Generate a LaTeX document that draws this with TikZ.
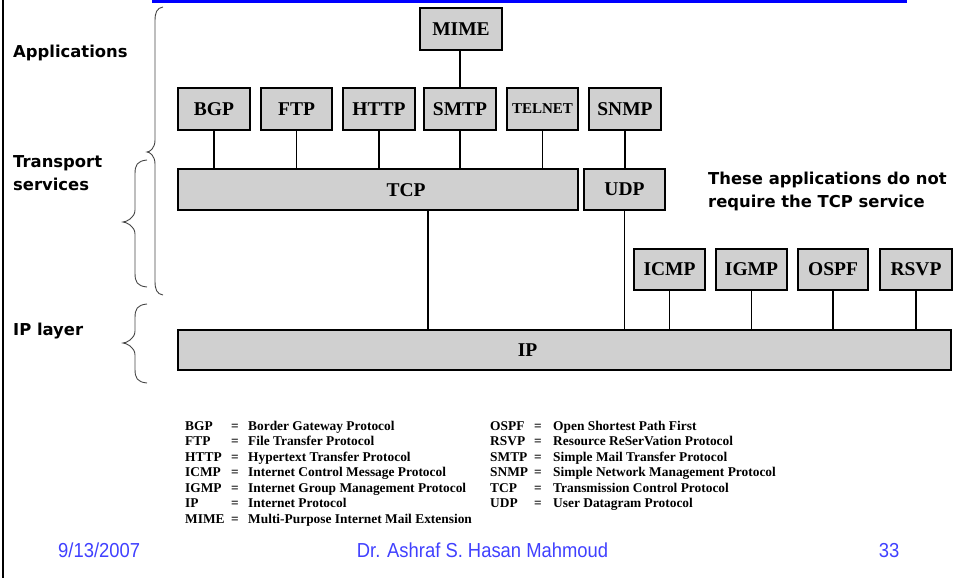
\documentclass[tikz,border=0pt]{standalone}
\usepackage{fontspec}
\setmainfont{Liberation Serif}
\newfontfamily\labelfont{DejaVu Sans}
\newfontfamily\footfont{Liberation Sans}
\usetikzlibrary{calc}
\definecolor{boxgray}{RGB}{208,208,208}
\definecolor{bracegray}{RGB}{70,70,70}
\definecolor{footblue}{RGB}{64,64,255}
\definecolor{barblue}{RGB}{0,0,255}

% curly brace opening to the right: right end x, spine x, tip x, top y, tip y, bottom y
\newcommand\drawbrace[6]{%
  \draw[bracegray, line width=0.9pt]
    (#1,#4) .. controls ({#2+2},{#4+1}) and (#2,{#4+5}) .. (#2,{#4+14})
    -- (#2,{#5-12}) .. controls (#2,{#5-4}) and ({#3+3},#5) .. (#3,#5)
    .. controls ({#3+3},#5) and (#2,{#5+4}) .. (#2,{#5+12})
    -- (#2,{#6-14}) .. controls (#2,{#6-5}) and ({#2+2},{#6-1}) .. (#1,#6);}

\tikzset{
  proto/.style={draw=black, fill=boxgray, line width=1.3pt, inner sep=0pt,
    minimum height=42pt, font=\fontsize{19.5}{22}\selectfont\bfseries},
  wire/.style={line width=1.3pt},
  sidelabel/.style={anchor=base west, inner sep=0pt,
    font=\labelfont\fontsize{16.4}{23}\selectfont\bfseries},
  legend/.style={anchor=base west, inner sep=0pt,
    font=\fontsize{13.4}{15.5}\selectfont\bfseries},
  eqsign/.style={anchor=base, inner sep=0pt,
    font=\fontsize{13.4}{15.5}\selectfont\bfseries},
  foot/.style={anchor=base, inner sep=0pt, text=footblue,
    font=\footfont\fontsize{18.4}{20}\selectfont}
}

\begin{document}
\begin{tikzpicture}[x=1pt,y=-1pt]
\useasboundingbox (0,0) rectangle (955,578);

% slide frame: title bar and left rule
\fill[barblue] (152,0) rectangle (907,3.5);
\draw[line width=2pt] (3,0) -- (3,578);

% layer labels
\node[sidelabel] (lapp) at (13,58) {Applications};
\node[sidelabel, align=left] (ltrans) at (13,190) {Transport\\services};
\node[sidelabel] (lip) at (13,335) {IP layer};
\node[sidelabel, align=left] (lnote) at (708,207) {These applications do not\\require the TCP service};

% braces
\drawbrace{163}{155}{147}{7}{152}{295}
\drawbrace{147}{135}{123}{160}{222}{287}
\drawbrace{147}{135}{123}{304}{343}{383}

% application protocols
\node[proto, minimum width=82pt] (MIME) at (461,29) {MIME};
\node[proto, minimum width=72pt] (BGP) at (214,109) {BGP};
\node[proto, minimum width=71pt] (FTP) at (296.5,109) {FTP};
\node[proto, minimum width=72pt] (HTTP) at (379,109) {HTTP};
\node[proto, minimum width=72pt] (SMTP) at (460,109) {SMTP};
\node[proto, minimum width=71pt, font=\fontsize{15}{17}\selectfont\bfseries] (TELNET) at (542.5,109) {TELNET};
\node[proto, minimum width=72pt] (SNMP) at (625,109) {SNMP};

% transport layer
\node[proto, minimum width=400pt, minimum height=41pt] (TCP) at (378,189.5) {};
\node[font=\fontsize{19.5}{22}\selectfont\bfseries] (TCPlabel) at (406,190) {TCP};
\node[proto, minimum width=81pt, minimum height=41pt] (UDP) at (624.5,189.5) {UDP};

% protocols directly over IP
\node[proto, minimum width=71pt, minimum height=41pt] (ICMP) at (669.5,269.5) {ICMP};
\node[proto, minimum width=71pt, minimum height=41pt] (IGMP) at (751.5,269.5) {IGMP};
\node[proto, minimum width=70pt, minimum height=41pt] (OSPF) at (833,269.5) {OSPF};
\node[proto, minimum width=72pt, minimum height=41pt] (RSVP) at (916,269.5) {RSVP};

% IP layer
\node[proto, minimum width=773pt, minimum height=40pt] (IP) at (564.5,350) {};
\node[font=\fontsize{19.5}{22}\selectfont\bfseries] (IPlabel) at (527.5,350) {IP};

% connectors
\draw[wire] (SMTP.north |- MIME.south) -- (SMTP.north);
\foreach \n in {BGP,FTP,HTTP,SMTP,TELNET}
  \draw[wire] (\n.south) -- (\n.south |- TCP.north);
\draw[wire] (SNMP.south) -- (SNMP.south |- UDP.north);
\draw[wire] (TCP.south) ++(50,0) coordinate (tcpdrop) -- (tcpdrop |- IP.north);
\draw[wire] (UDP.south) -- (UDP.south |- IP.north);
\foreach \n in {ICMP,IGMP,OSPF,RSVP}
  \draw[wire] (\n.south) -- (\n.south |- IP.north);

% abbreviation key
\foreach \ab/\df [count=\i from 0] in {
  BGP/Border Gateway Protocol,
  FTP/File Transfer Protocol,
  HTTP/Hypertext Transfer Protocol,
  ICMP/Internet Control Message Protocol,
  IGMP/Internet Group Management Protocol,
  IP/Internet Protocol,
  MIME/Multi-Purpose Internet Mail Extension}{
  \node[legend] (ka\i) at (185,{430+15.5*\i}) {\ab};
  \node[eqsign] (ke\i) at (235,{430+15.5*\i}) {=};
  \node[legend] (kd\i) at (248,{430+15.5*\i}) {\df};
}
\foreach \ab/\df [count=\i from 0] in {
  OSPF/Open Shortest Path First,
  RSVP/Resource ReSerVation Protocol,
  SMTP/Simple Mail Transfer Protocol,
  SNMP/Simple Network Management Protocol,
  TCP/Transmission Control Protocol,
  UDP/User Datagram Protocol}{
  \node[legend] (kb\i) at (490,{430+15.5*\i}) {\ab};
  \node[eqsign] (kf\i) at (538,{430+15.5*\i}) {=};
  \node[legend] (kg\i) at (553,{430+15.5*\i}) {\df};
}

% footer
\node[foot, anchor=base west] (fdate) at (58,557) {\scalebox{1}[1.1]{9/13/2007}};
\node[foot] (fauthor) at (482.5,557) {\scalebox{1}[1.1]{Dr. Ashraf S. Hasan Mahmoud}};
\node[foot] (fpage) at (889,557) {\scalebox{1}[1.1]{33}};
\end{tikzpicture}
\end{document}
